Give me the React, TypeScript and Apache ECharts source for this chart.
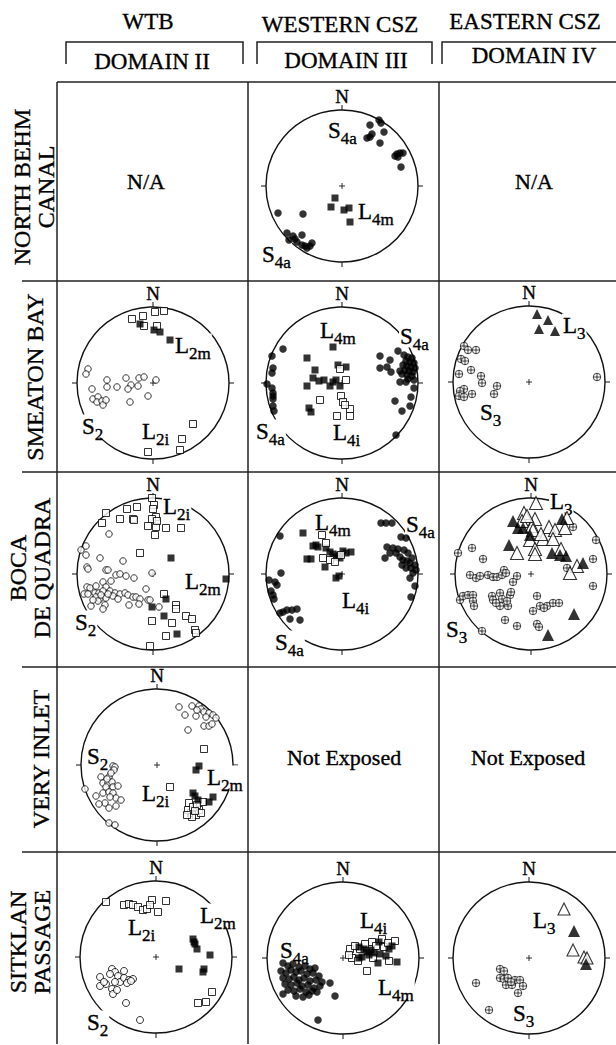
import React, { useEffect, useRef } from "react";
import * as echarts from "echarts";

const FONT = '"Liberation Serif", "Times New Roman", serif';
const NET_R = 76; // projection extent (primitive circle radius, in net units)

// ---------- texts ----------
const columnTitles = ["WTB", "WESTERN CSZ", "EASTERN CSZ"];
const domainTitles = ["DOMAIN II", "DOMAIN III", "DOMAIN IV"];
const rowTitles = ["NORTH BEHM\nCANAL", "SMEATON BAY", "BOCA\nDE QUADRA", "VERY INLET", "SITKLAN\nPASSAGE"];
const emptyCells = [
  { text: "N/A", x: 146, y: 181 },
  { text: "N/A", x: 534, y: 181 },
  { text: "Not Exposed", x: 344, y: 757 },
  { text: "Not Exposed", x: 528, y: 757 },
];
const netCenterMark = [[0, 0]];

// ---------- data: [east, north] in projection units ----------
// North Behm Canal – Western CSZ
const behmW_S4a = [[28,61],[37,66],[39,63],[42,54],[30,52],[28,49],[25,48],[38,43],[53,30],[55,32],[58,33],[61,33],[56,29],[59,19],
  [-64,-27],[-39,-28],[-55,-47],[-49,-50],[-40,-49],[-53,-54],[-45,-56],[-40,-59],[-35,-62],[-30,-57],[-32,-60],[-37,-60],[-47,-53]];
const behmW_L4m = [[-7,-12],[-11,-21],[2,-24],[7,-22],[8,-36]];

// Smeaton Bay – WTB
const smeatonT_S2 = [[-65,14],[-67,9],[-46,3],[-46,-4],[-36,-4],[-27,5],[-22,-2],[-25,-6],[-15,-3],[-14,5],[-9,6],[3,3],[-61,-6],
  [-60,-16],[-55,-14],[-56,-19],[-51,-18],[-50,-22],[-47,-17],[-23,-19],[-5,-13]];
const smeatonT_L2i = [[-21,64],[-10,67],[2,71],[11,72],[-9,57],[4,57],[40,-41],[29,-56],[27,-67],[-5,-69]];
const smeatonT_L2m = [[-13,59],[1,53],[7,51],[17,43]];

// Smeaton Bay – Western CSZ
const smeatonW_S4a = [[-59,34],[-70,27],[-69,15],[-70,10],[-75,-1],[-70,-5],[-69,-10],[-69,-13],[-69,-16],[-69,-23],[-68,-28],
  [38,27],[56,32],[48,23],[38,15],[45,16],[49,11],[58,12],[64,1],[58,1],[53,-18],[60,-28],[68,-23],[54,-52],[72,-5],[69,-14],
  [62,28],[66,26],[70,25],[64,22],[68,21],[72,20],[61,18],[65,17],[69,16],[73,15],[63,13],[67,12],[71,11],[60,9],[65,8],[70,7],[66,4],[72,3]];
const smeatonW_L4m = [[-35,25],[-35,-3],[-9,36],[-27,13],[-29,5],[-23,2],[-18,3],[-12,-3],[-9,1],[-6,3],[-4,18],[4,16],[-2,-3],[-31,-29],[-33,-25]];
const smeatonW_L4i = [[-2,14],[4,3],[-1,-13],[1,-19],[8,-26],[8,-33],[-5,-33],[-22,-17],[3,-22]];

// Smeaton Bay – Eastern CSZ
const smeatonE_L3 = [[8,68],[19,62],[10,53],[26,51]];
const smeatonE_S3 = [[-65,36],[-61,32],[-53,32],[-68,23],[-64,21],[-70,8],[-58,12],[-48,6],[-47,-1],[-32,-4],[-35,-12],[-57,-12],[-65,-7],
  [-69,-9],[-70,-14],[-65,-15],[68,5]];

// Boca de Quadra – WTB
const bocaT_L2i = [[-1,76],[-47,61],[-51,51],[-26,65],[-16,67],[-20,55],[-33,55],[-19,54],[1,69],[3,57],[-1,55],[-5,48],[3,47],[13,46],[28,46],
  [2,39],[-13,21],[0,65],[4,53],[23,-31],[23,-35],[33,-42],[39,-45],[19,-49],[-1,-47],[13,-62],[42,-56],[43,-59],[-3,-72],[11,-20]];
const bocaT_L2m = [[18,16],[73,-5],[13,-25],[-1,-33],[11,-42],[24,-60]];
const bocaT_S2 = [[-72,24],[-67,28],[-67,19],[-44,40],[-53,16],[-30,13],[-66,7],[-65,5],[-47,4],[-45,4],[-37,-1],[-33,0],[-27,-2],[-19,-4],[-1,1],
  [-42,-7],[-50,-8],[-47,-13],[-66,-13],[-63,-14],[-57,-12],[-69,-20],[-65,-20],[-58,-19],[-54,-19],[-50,-17],[-43,-17],[-38,-19],[-33,-20],
  [-28,-19],[-25,-21],[-20,-23],[-17,-23],[-13,-25],[-7,-15],[-5,-26],[-3,-26],[6,-33],[-24,-31],[-14,-30],[-48,-31],[-53,-25],[-62,-32],
  [-57,-23],[-47,-24],[-50,-35],[-55,-27],[-60,-26],[-52,-21],[-40,-22],[-35,-25],[-45,-20]];

// Boca de Quadra – Western CSZ
const bocaW_S4a = [[-62,38],[-61,1],[-73,-6],[-65,-11],[-71,-17],[-69,-21],[-68,-25],[-62,-39],[-59,-38],[-55,-36],[-50,-36],[-45,-35],[-52,-45],[-42,-46],[-67,-8],
  [39,51],[44,51],[50,51],[59,37],[64,36],[45,27],[51,26],[48,21],[43,16],[54,21],[58,17],[61,14],[65,13],[68,11],[73,9],[69,6],[64,6],[71,1],
  [68,-4],[73,-12],[69,-23],[66,21],[62,24],[56,25],[70,16],[74,4],[60,9]];
const bocaW_L4m = [[-39,41],[-35,15],[-29,28],[-26,29],[-31,15],[-16,26],[-9,20],[-3,19],[1,23],[4,21],[9,22],[-2,16],[-17,7],[-6,17],[-6,-4],[-3,-2],[-24,27],[-12,22]];
const bocaW_L4i = [[-20,39],[-16,31],[-19,16],[-12,14],[-7,12],[-1,19]];

// Boca de Quadra – Eastern CSZ
const bocaE_L3open = [[5,71],[-7,61],[4,55],[-9,53],[1,48],[2,44],[18,47],[24,44],[36,56],[34,46],[12,35],[22,35],[-1,34],[4,25],[4,20],[-14,21],[30,25],[46,8],[39,1],[-4,58],[10,40]];
const bocaE_L3filled = [[-18,53],[-13,46],[-8,46],[-1,39],[-22,29],[29,19],[21,21],[35,18],[52,11],[31,55],[43,-40],[17,-61]];
const bocaE_S3 = [[-73,21],[-59,26],[-48,15],[-61,-1],[-55,-4],[-51,-2],[-43,-1],[-38,-3],[-34,-3],[-29,-1],[-27,4],[-25,1],[-14,-2],[-18,-8],
  [-71,-26],[-68,-22],[-63,-21],[-58,-21],[-58,-27],[-57,-32],[-39,-22],[-38,-26],[-31,-19],[-29,-25],[-21,-21],[-20,-18],[-31,-32],[-23,-32],
  [-26,-46],[-14,-52],[6,-22],[2,-37],[9,-32],[16,-32],[22,-29],[28,-29],[6,-50],[8,-53],[-49,-57],[42,47],[65,34],[62,15],[62,-12],[36,6],[-35,-29],[-24,-27],[13,-34]];

// Very Inlet – WTB
const veryT_S2 = [[22,58],[35,59],[42,59],[44,56],[47,53],[52,52],[56,50],[59,47],[28,50],[39,49],[49,48],[47,39],[52,39],[55,41],[31,35],[40,55],
  [-44,-1],[-42,-2],[-43,-5],[-56,-12],[-48,-12],[-54,-18],[-49,-18],[-45,-17],[-51,-22],[-44,-22],[-39,-21],[-61,-31],[-54,-28],[-48,-27],
  [-44,-28],[-41,-33],[-36,-35],[-52,-38],[-58,-39],[-48,-43],[-41,-41],[-72,-24],[-48,-58],[-42,-60],[-47,-32],[-46,-8],[-50,-14]];
const veryT_L2i = [[47,16],[13,-22],[32,-38],[34,-48],[39,-50],[31,-45],[42,-45],[46,-37],[36,-42],[40,-40],[44,-48],[35,-52],[30,-50],[38,-46]];
const veryT_L2m = [[39,-5],[42,-1],[36,-28],[41,-35],[52,-37],[56,-32],[38,-31]];

// Sitklan Passage – WTB
const sitklanT_L2i = [[-50,55],[-32,52],[-27,53],[-23,52],[-18,50],[-13,47],[-9,48],[-4,57],[-6,52],[2,45],[10,56],[56,-35],[50,-45],[42,-46]];
const sitklanT_L2m = [[37,18],[38,15],[41,8],[54,2],[23,-12],[48,-12],[47,-15],[39,13]];
const sitklanT_S2 = [[-56,-20],[-50,-27],[-56,-29],[-44,-12],[-41,-15],[-32,-14],[-46,-17],[-38,-19],[-36,-25],[-41,-25],[-32,-21],[-27,-23],
  [-23,-22],[-29,-26],[-44,-32],[-43,-37],[-39,-33],[-30,-46],[-16,-63],[-25,-24],[-52,-25]];

// Sitklan Passage – Western CSZ
const sitklanW_S4a = [[-60,-5],[-55,-8],[-50,-6],[-44,-9],[-38,-8],[-33,-11],[-28,-10],[-62,-13],[-57,-15],[-52,-12],[-47,-14],[-42,-13],[-36,-16],
  [-30,-15],[-24,-18],[-60,-20],[-54,-21],[-49,-19],[-44,-22],[-39,-20],[-33,-23],[-27,-22],[-21,-24],[-58,-26],[-52,-27],[-46,-25],[-41,-28],
  [-35,-27],[-29,-30],[-23,-28],[-55,-32],[-49,-33],[-43,-31],[-37,-34],[-31,-33],[-47,-38],[-40,-39],[-34,-37],[-60,-36],[-26,-34],
  [-13,-25],[-8,-38],[-25,-62]];
const sitklanW_L4i = [[7,9],[17,9],[29,16],[39,19],[41,11],[52,17],[46,-3],[24,-13],[9,0],[6,3],[12,12],[22,14],[33,12],[45,15],[30,0],[15,-3]];
const sitklanW_L4m = [[16,11],[21,9],[24,6],[26,3],[19,1],[36,16],[37,4],[46,9],[35,-5],[54,-4],[16,0],[28,8],[31,5],[43,2],[49,12]];

// Sitklan Passage – Eastern CSZ
const sitklanE_L3open = [[35,49],[44,8],[55,1],[58,0]];
const sitklanE_L3filled = [[45,27],[57,-6]];
const sitklanE_S3 = [[-29,-11],[-25,-13],[-29,-20],[-25,-21],[-20,-24],[-23,-27],[-17,-27],[-14,-22],[-9,-22],[-6,-28],[-11,-35],[-53,-25],[-40,-52],[-21,-20],[-18,-24]];

// ---------- symbols ----------
const CROSS_CIRCLE = "path://M0,5A5,5,0,1,1,10,5A5,5,0,1,1,0,5ZM0,5L10,5M5,0L5,10";
const PLUS = "path://M0,5L10,5M5,0L5,10";
const SYM: Record<string, any> = {
  filledCircle: { symbol: "circle", symbolSize: 7.5, itemStyle: { color: "#000" } },
  openCircle: { symbol: "circle", symbolSize: 7, itemStyle: { color: "#fff", borderColor: "#000", borderWidth: 1 } },
  filledSquare: { symbol: "rect", symbolSize: 7, itemStyle: { color: "#000" } },
  openSquare: { symbol: "rect", symbolSize: 7, itemStyle: { color: "#fff", borderColor: "#000", borderWidth: 1 } },
  crossCircle: { symbol: CROSS_CIRCLE, symbolSize: 7.5, itemStyle: { color: "#fff", borderColor: "#000", borderWidth: 0.9 } },
  filledTriangle: { symbol: "triangle", symbolSize: 12, itemStyle: { color: "#000" } },
  openTriangle: { symbol: "triangle", symbolSize: 13, itemStyle: { color: "#fff", borderColor: "#000", borderWidth: 1.1 } },
};

type Lbl = [string, string, number, number];
const nets: { c: [number, number]; sets: [string, number[][], number?][]; labels: Lbl[] }[] = [
  { c: [342, 186], sets: [["filledCircle", behmW_S4a], ["filledSquare", behmW_L4m]],
    labels: [["S", "4a", 328, 130], ["L", "4m", 358, 211], ["S", "4a", 262, 254]] },
  { c: [153, 383], sets: [["openCircle", smeatonT_S2, 6.5], ["openSquare", smeatonT_L2i], ["filledSquare", smeatonT_L2m]],
    labels: [["L", "2m", 175, 345], ["S", "2", 82, 426], ["L", "2i", 142, 431]] },
  { c: [342, 383], sets: [["filledCircle", smeatonW_S4a], ["filledSquare", smeatonW_L4m], ["openSquare", smeatonW_L4i]],
    labels: [["L", "4m", 320, 330], ["S", "4a", 400, 336], ["L", "4i", 333, 432], ["S", "4a", 256, 431]] },
  { c: [529, 382], sets: [["crossCircle", smeatonE_S3], ["filledTriangle", smeatonE_L3, 10]],
    labels: [["L", "3", 563, 325], ["S", "3", 480, 412]] },
  { c: [153, 574], sets: [["openCircle", bocaT_S2, 6.5], ["openSquare", bocaT_L2i], ["filledSquare", bocaT_L2m]],
    labels: [["L", "2i", 163, 506], ["L", "2m", 185, 581], ["S", "2", 75, 622]] },
  { c: [342, 574], sets: [["filledCircle", bocaW_S4a], ["filledSquare", bocaW_L4m], ["openSquare", bocaW_L4i]],
    labels: [["L", "4m", 315, 522], ["S", "4a", 406, 524], ["L", "4i", 342, 600], ["S", "4a", 275, 642]] },
  { c: [531, 574], sets: [["crossCircle", bocaE_S3], ["openTriangle", bocaE_L3open], ["filledTriangle", bocaE_L3filled]],
    labels: [["L", "3", 550, 501], ["S", "3", 446, 629]] },
  { c: [157, 765], sets: [["openCircle", veryT_S2, 6.5], ["openSquare", veryT_L2i], ["filledSquare", veryT_L2m]],
    labels: [["S", "2", 87, 756], ["L", "2i", 142, 793], ["L", "2m", 207, 777]] },
  { c: [156, 957], sets: [["openCircle", sitklanT_S2], ["openSquare", sitklanT_L2i], ["filledSquare", sitklanT_L2m]],
    labels: [["L", "2i", 128, 927], ["L", "2m", 200, 915], ["S", "2", 87, 1022]] },
  { c: [343, 958], sets: [["filledCircle", sitklanW_S4a], ["openSquare", sitklanW_L4i], ["filledSquare", sitklanW_L4m]],
    labels: [["L", "4i", 360, 920], ["L", "4m", 378, 987], ["S", "4a", 280, 950]] },
  { c: [529, 958], sets: [["crossCircle", sitklanE_S3], ["openTriangle", sitklanE_L3open, 12], ["filledTriangle", sitklanE_L3filled, 12]],
    labels: [["L", "3", 533, 920], ["S", "3", 513, 1013]] },
];

const TXT_STROKE = { stroke: "#000", lineWidth: 0.35 };

function buildOption() {
  const grid: any[] = [], xAxis: any[] = [], yAxis: any[] = [], polar: any[] = [], angleAxis: any[] = [], radiusAxis: any[] = [];
  const series: any[] = [];
  const graphic: any[] = [];
  const line = "#222";

  nets.forEach((n, i) => {
    const [cx, cy] = n.c;
    grid.push({ left: cx - NET_R, top: cy - NET_R, width: 2 * NET_R, height: 2 * NET_R });
    xAxis.push({ gridIndex: i, type: "value", min: -NET_R, max: NET_R, show: false });
    yAxis.push({ gridIndex: i, type: "value", min: -NET_R, max: NET_R, show: false });
    polar.push({ center: [cx, cy], radius: NET_R });
    angleAxis.push({
      polarIndex: i, type: "value", min: 0, max: 360, interval: 90, startAngle: 90, clockwise: true, z: 0,
      axisLine: { lineStyle: { color: "#111", width: 1.4 } },
      axisTick: { show: true, length: 5, lineStyle: { color: "#111", width: 1 } },
      axisLabel: { show: false }, splitLine: { show: false },
    });
    radiusAxis.push({ polarIndex: i, type: "value", min: 0, max: 1, show: false });
    series.push({ type: "scatter", xAxisIndex: i, yAxisIndex: i, data: netCenterMark, symbol: PLUS, symbolSize: 6,
      itemStyle: { color: "transparent", borderColor: "#000", borderWidth: 1 }, silent: true, clip: false, z: 3 });
    n.sets.forEach(([kind, data, size]) => {
      const s = SYM[kind];
      series.push({ type: "scatter", xAxisIndex: i, yAxisIndex: i, data, symbol: s.symbol,
        symbolSize: size ?? s.symbolSize, itemStyle: s.itemStyle, silent: true, clip: false, z: 3 });
    });
    // N label
    graphic.push({ type: "text", x: cx, y: cy - 90, z: 5, style: { text: "N", font: `19px ${FONT}`, fill: "#000", ...TXT_STROKE, align: "center", verticalAlign: "middle" } });
    n.labels.forEach(([m, sub, x, y]) => {
      graphic.push({ type: "text", x: x - 1, y: y - 11.5, z: 1,
        style: { text: `{m|${m}}{s|${sub}}`, align: "left", verticalAlign: "top", backgroundColor: "#fff", padding: [0, 1, 0, 1],
          rich: {
            m: { fontSize: 23, fontFamily: FONT, fill: "#000", ...TXT_STROKE, lineHeight: 23, verticalAlign: "top" },
            s: { fontSize: 17, fontFamily: FONT, fill: "#000", ...TXT_STROKE, lineHeight: 17, verticalAlign: "top", padding: [11, 0, 0, 0] },
          } } });
    });
  });

  // table lines
  const hl = (y: number, x1: number) => ({ type: "line", shape: { x1, y1: y, x2: 616, y2: y }, style: { stroke: line, lineWidth: 1.5 }, z: 5 });
  const vl = (x: number) => ({ type: "line", shape: { x1: x, y1: 82, x2: x, y2: 1044 }, style: { stroke: line, lineWidth: 1.5 }, z: 5 });
  graphic.push(hl(82, 57), hl(281, 22), hl(472, 22), hl(667, 22), hl(852, 22), vl(57), vl(248), vl(439));
  // brackets
  const br = (pts: number[][]) => ({ type: "polyline", shape: { points: pts }, style: { stroke: line, lineWidth: 1.5, fill: null }, z: 5 });
  graphic.push(br([[66, 64], [66, 42], [243, 42], [243, 64]]), br([[257, 64], [257, 42], [432, 42], [432, 64]]), br([[442, 64], [442, 42], [616, 42]]));

  const colX = [148, 340, 525];
  const colY = [21.5, 24.5, 21];
  const domX = [152, 346, 534];
  const domY = [61, 60, 55];
  columnTitles.forEach((t, i) => graphic.push({ type: "text", x: colX[i], y: colY[i], z: 5,
    style: { text: t, font: `23px ${FONT}`, fill: "#000", ...TXT_STROKE, align: "center", verticalAlign: "middle" } }));
  domainTitles.forEach((t, i) => graphic.push({ type: "text", x: domX[i], y: domY[i], z: 5,
    style: { text: t, font: `23px ${FONT}`, fill: "#000", ...TXT_STROKE, align: "center", verticalAlign: "middle" } }));

  const rowPos = [[34, 187], [35, 377], [30, 568], [41, 759], [30, 942]];
  rowTitles.forEach((t, i) => graphic.push({ type: "text", x: rowPos[i][0], y: rowPos[i][1], rotation: Math.PI / 2, z: 5,
    style: { text: t, font: `24px ${FONT}`, lineHeight: 24, fill: "#000", ...TXT_STROKE, align: "center", verticalAlign: "middle" } }));

  emptyCells.forEach((e) => graphic.push({ type: "text", x: e.x, y: e.y, z: 5,
    style: { text: e.text, font: `22px ${FONT}`, fill: "#000", ...TXT_STROKE, align: "center", verticalAlign: "middle" } }));

  return { animation: false, backgroundColor: "#fff", grid, xAxis, yAxis, polar, angleAxis, radiusAxis, series, graphic };
}

export default function App() {
  const ref = useRef<HTMLDivElement>(null);
  useEffect(() => {
    document.body.style.margin = "0";
    const chart = echarts.init(ref.current!, undefined, { renderer: "svg" });
    chart.setOption(buildOption() as any);
    return () => chart.dispose();
  }, []);
  return <div ref={ref} style={{ width: 616, height: 1045, position: "absolute", left: 0, top: 0 }} />;
}
